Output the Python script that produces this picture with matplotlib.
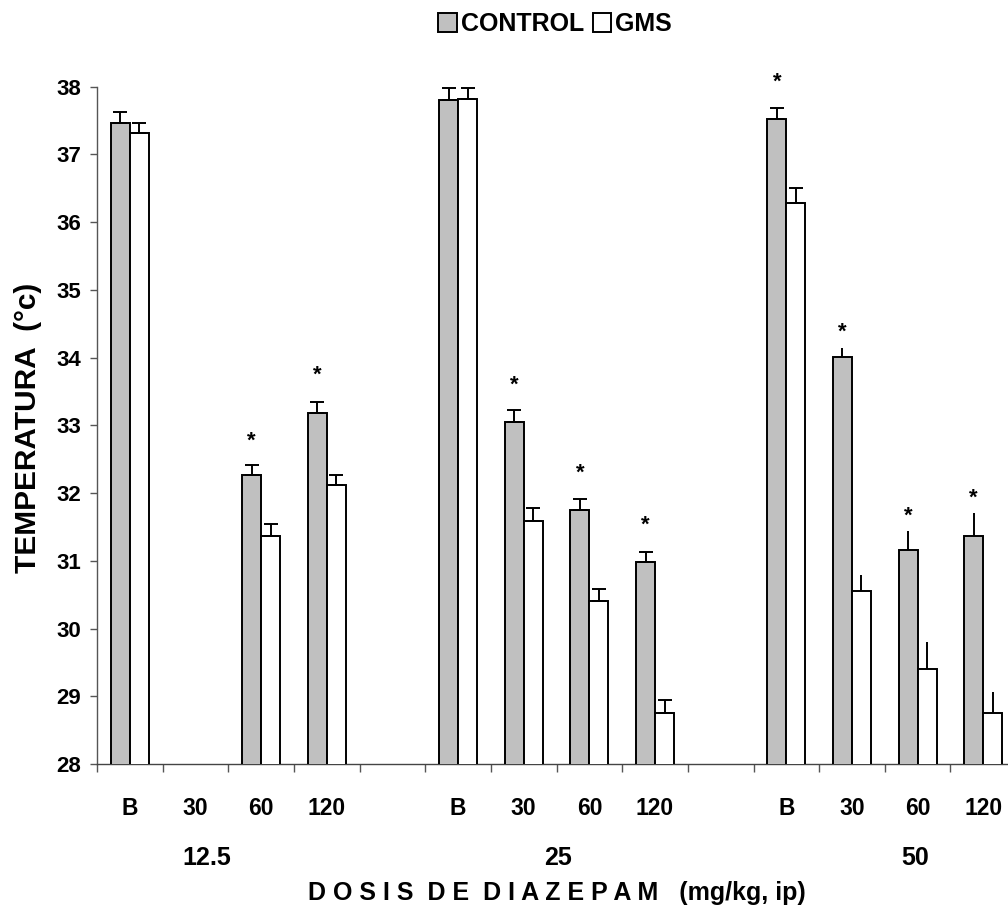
import numpy as np
import matplotlib
matplotlib.use("Agg")
import matplotlib.pyplot as plt
from matplotlib.patches import Patch

plt.rcParams['font.family'] = ['Liberation Sans', 'DejaVu Sans']
plt.rcParams['font.weight'] = 'bold'

# ---------------- data ----------------
doses = ['12.5', '25', '50']
times = ['B', '30', '60', '120']
series_names = ['CONTROL', 'GMS']

control_mean = [37.46, np.nan, 32.27, 33.18, 37.81, 33.05, 31.75, 30.98, 37.52, 34.01, 31.16, 31.37]
control_err = [0.17, np.nan, 0.15, 0.17, 0.17, 0.18, 0.16, 0.15, 0.16, 0.13, 0.28, 0.34]
gms_mean = [37.31, np.nan, 31.37, 32.12, 37.82, 31.59, 30.41, 28.75, 36.28, 30.55, 29.40, 28.75]
gms_err = [0.16, np.nan, 0.17, 0.15, 0.16, 0.19, 0.18, 0.19, 0.23, 0.24, 0.40, 0.32]
has_cap = [True, True, True, True, True, True, True, True, True, False, False, False]
star_level = [np.nan, np.nan, 32.77, 33.74, np.nan, 33.59, 32.29, 31.53, 38.06, 34.38, 31.66, 31.92]

# ---------------- layout ----------------
W, H = 1008, 909
fig = plt.figure(figsize=(W / 100, H / 100), dpi=100)
slot_px = 65.65
ax_left, ax_bottom_px, ax_top_px = 97, 764, 86.7
ax = fig.add_axes([ax_left / W, 1 - ax_bottom_px / H, (W - ax_left) / W, (ax_bottom_px - ax_top_px) / H])

# slot positions: 4 bars per dose, one empty slot between doses
positions = []
for g in range(len(doses)):
    for t in range(len(times)):
        positions.append(g * (len(times) + 1) + t)
positions = np.array(positions, dtype=float)

bw = 0.29
gray = '#C0C0C0'
ax.bar(positions - bw / 2, control_mean, width=bw, color=gray, edgecolor='black', linewidth=1.4, zorder=3)
ax.bar(positions + bw / 2, gms_mean, width=bw, color='white', edgecolor='black', linewidth=1.4, zorder=3)

for i, x in enumerate(positions):
    cs = 4.8 if has_cap[i] else 0
    for xx, m, e in ((x - bw / 2, control_mean[i], control_err[i]), (x + bw / 2, gms_mean[i], gms_err[i])):
        if np.isnan(m):
            continue
        ax.errorbar(xx, m, yerr=[[0], [e]], fmt='none', ecolor='black', elinewidth=1.4,
                    capsize=cs, capthick=1.4, zorder=4, clip_on=False)
    if not np.isnan(star_level[i]):
        ax.text(x - bw / 2, star_level[i], '*', ha='center', va='center', fontsize=16,
                fontweight='bold', clip_on=False, zorder=5)

ax.set_ylim(28, 38)
ax.set_xlim(-0.5, -0.5 + (W - ax_left) / slot_px)
ax.set_yticks(range(28, 39))
ax.tick_params(axis='y', direction='out', length=5, width=1, color='#555555', pad=6.5, labelsize=16)
ax.set_xticks(positions)
ax.set_xticklabels([t for _ in doses for t in times])
ax.tick_params(axis='x', length=0, pad=24, labelsize=16.5)
ax.set_xticks(np.arange(-0.5, 13, 1.0), minor=True)
ax.tick_params(axis='x', which='minor', direction='out', length=6, width=1, color='#555555')
for lab in ax.get_xticklabels() + ax.get_yticklabels():
    lab.set_fontweight('bold')

for s in ['top', 'right']:
    ax.spines[s].set_visible(False)
ax.spines['left'].set_color('#555555')
ax.spines['bottom'].set_color('#444444')
ax.spines['left'].set_linewidth(1.0)
ax.spines['bottom'].set_linewidth(1.0)

# dose labels
dose_px = [207, 558, 915]
for d, px in zip(doses, dose_px):
    fig.text(px / W, 1 - 865 / H, d, ha='center', va='baseline', fontsize=18, fontweight='bold')

fig.text(557 / W, 1 - 900 / H, 'D O S I S  D E  D I A Z E P A M   (mg/kg, ip)', ha='center',
         va='baseline', fontsize=18, fontweight='bold')
fig.text(28 / W, 1 - 428 / H, 'TEMPERATURA  (°c)', rotation=90, ha='center', va='center',
         fontsize=21.5, fontweight='bold')

handles = [Patch(facecolor=gray, edgecolor='black', linewidth=1.4),
           Patch(facecolor='white', edgecolor='black', linewidth=1.4)]
fig.legend(handles, series_names, ncol=2, frameon=False, loc='center',
           bbox_to_anchor=(555 / W, 1 - 24 / H), handlelength=0.75, handleheight=0.8,
           handletextpad=0.15, columnspacing=0.35, prop={'weight': 'bold', 'size': 18})

fig.savefig('out.png', dpi=100)
